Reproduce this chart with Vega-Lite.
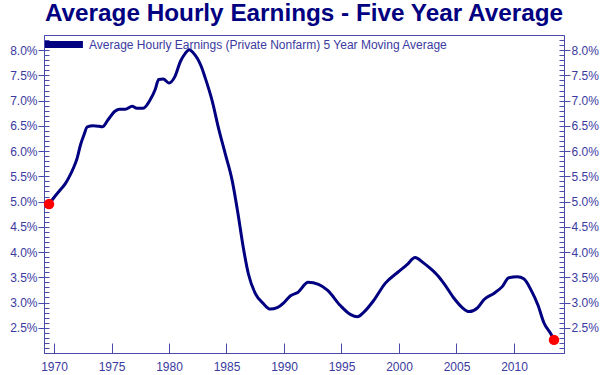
{
  "$schema": "https://vega.github.io/schema/vega-lite/v6.json",
  "width": 520,
  "height": 318,
  "autosize": {"type": "none"},
  "padding": {"left": 44, "top": 35, "right": 36, "bottom": 22},
  "title": {
    "text": "Average Hourly Earnings - Five Year Average",
    "fontSize": 24.3,
    "fontWeight": "bold",
    "color": "#000080",
    "font": "Liberation Sans",
    "anchor": "middle",
    "offset": 9
  },
  "data": {
    "values": [
      {"year": 1969.57, "value": 4.95},
      {"year": 1970.0, "value": 5.08},
      {"year": 1970.5, "value": 5.22},
      {"year": 1971.0, "value": 5.36},
      {"year": 1971.3, "value": 5.48},
      {"year": 1971.7, "value": 5.67},
      {"year": 1972.0, "value": 5.85},
      {"year": 1972.3, "value": 6.12},
      {"year": 1972.6, "value": 6.32},
      {"year": 1972.9, "value": 6.48},
      {"year": 1973.4, "value": 6.5},
      {"year": 1973.9, "value": 6.49},
      {"year": 1974.2, "value": 6.48},
      {"year": 1974.7, "value": 6.62},
      {"year": 1975.3, "value": 6.79},
      {"year": 1975.7, "value": 6.83},
      {"year": 1976.2, "value": 6.83},
      {"year": 1976.8, "value": 6.89},
      {"year": 1977.2, "value": 6.85},
      {"year": 1977.75, "value": 6.85},
      {"year": 1978.4, "value": 7.03},
      {"year": 1978.8, "value": 7.22},
      {"year": 1979.1, "value": 7.42},
      {"year": 1979.5, "value": 7.43},
      {"year": 1980.0, "value": 7.35},
      {"year": 1980.5, "value": 7.47},
      {"year": 1981.0, "value": 7.78},
      {"year": 1981.4, "value": 7.93},
      {"year": 1981.76, "value": 8.01},
      {"year": 1982.1, "value": 7.95},
      {"year": 1982.46, "value": 7.84},
      {"year": 1982.8, "value": 7.68},
      {"year": 1983.15, "value": 7.45},
      {"year": 1983.76, "value": 6.99},
      {"year": 1984.3, "value": 6.46},
      {"year": 1984.9, "value": 5.94},
      {"year": 1985.5, "value": 5.41},
      {"year": 1986.0, "value": 4.76},
      {"year": 1986.46, "value": 4.09},
      {"year": 1986.9, "value": 3.57},
      {"year": 1987.5, "value": 3.18},
      {"year": 1988.2, "value": 2.98},
      {"year": 1988.8, "value": 2.87},
      {"year": 1989.4, "value": 2.9},
      {"year": 1990.0, "value": 3.0},
      {"year": 1990.6, "value": 3.14},
      {"year": 1991.2, "value": 3.2},
      {"year": 1992.1, "value": 3.4},
      {"year": 1993.0, "value": 3.36},
      {"year": 1993.8, "value": 3.24},
      {"year": 1994.9, "value": 2.94},
      {"year": 1995.8, "value": 2.76},
      {"year": 1996.4, "value": 2.72},
      {"year": 1996.9, "value": 2.8},
      {"year": 1997.8, "value": 3.04},
      {"year": 1998.8, "value": 3.38},
      {"year": 1999.9, "value": 3.6},
      {"year": 2000.7, "value": 3.75},
      {"year": 2001.4, "value": 3.89},
      {"year": 2002.1, "value": 3.79},
      {"year": 2002.75, "value": 3.67},
      {"year": 2003.3, "value": 3.55},
      {"year": 2003.9, "value": 3.38},
      {"year": 2004.8, "value": 3.08},
      {"year": 2005.5, "value": 2.9},
      {"year": 2006.1, "value": 2.82},
      {"year": 2006.85, "value": 2.9},
      {"year": 2007.4, "value": 3.06},
      {"year": 2008.25, "value": 3.18},
      {"year": 2009.0, "value": 3.32},
      {"year": 2009.55, "value": 3.49},
      {"year": 2010.3, "value": 3.51},
      {"year": 2010.85, "value": 3.47},
      {"year": 2011.5, "value": 3.24},
      {"year": 2012.1, "value": 2.94},
      {"year": 2012.6, "value": 2.6},
      {"year": 2013.2, "value": 2.38},
      {"year": 2013.48, "value": 2.26}
    ]
  },
  "layer": [
    {
      "mark": {"type": "line", "strokeWidth": 3, "interpolate": "monotone"},
      "encoding": {
        "x": {
          "field": "year", "type": "quantitative",
          "scale": {"domain": [1969.13, 2014.35], "nice": false, "zero": false},
          "axis": {"orient": "bottom", "title": null, "values": [1970, 1975, 1980, 1985, 1990, 1995, 2000, 2005, 2010], "format": "d", "ticks": false, "labelPadding": 8, "grid": false, "domain": true}
        },
        "y": {
          "field": "value", "type": "quantitative",
          "scale": {"domain": [2.0, 8.3], "nice": false, "zero": false},
          "axis": {"orient": "left", "title": null, "values": [2.5, 3.0, 3.5, 4.0, 4.5, 5.0, 5.5, 6.0, 6.5, 7.0, 7.5, 8.0], "labelExpr": "format(datum.value, '.1f') + '%'", "tickSize": 6, "labelPadding": 1, "grid": false}
        },
        "color": {
          "datum": "Average Hourly Earnings (Private Nonfarm) 5 Year Moving Average",
          "scale": {"range": ["#000080"]},
          "legend": {"orient": "top-left", "title": null, "offset": 1, "padding": 0, "symbolType": "M-1.8,0H6.2", "symbolStrokeWidth": 7, "symbolSize": 90, "labelFontSize": 12, "labelColor": "#3a3aa0", "labelFont": "Liberation Sans", "labelOffset": 27, "labelLimit": 500}
        }
      }
    },
    {
      "transform": [{"filter": "datum.year < 1969.6 || datum.year > 2013.4"}],
      "mark": {"type": "point", "filled": true, "color": "#ff0000", "size": 110, "opacity": 1},
      "encoding": {
        "x": {"field": "year", "type": "quantitative", "scale": {"domain": [1969.13, 2014.35], "nice": false, "zero": false}, "axis": null},
        "y": {
          "field": "value", "type": "quantitative",
          "scale": {"domain": [2.0, 8.3], "nice": false, "zero": false},
          "axis": {"orient": "right", "title": null, "values": [2.5, 3.0, 3.5, 4.0, 4.5, 5.0, 5.5, 6.0, 6.5, 7.0, 7.5, 8.0], "labelExpr": "format(datum.value, '.1f') + '%'", "tickSize": 6, "labelPadding": 1, "grid": false}
        }
      }
    },
    {
      "mark": {"type": "line", "opacity": 0},
      "encoding": {
        "x": {
          "field": "year", "type": "quantitative",
          "scale": {"domain": [1969.13, 2014.35], "nice": false, "zero": false},
          "axis": {"orient": "bottom", "title": null, "values": [1970, 1975, 1980, 1985, 1990, 1995, 2000, 2005, 2010], "labels": false, "tickSize": -10, "domain": false, "grid": false}
        },
        "y": {
          "field": "value", "type": "quantitative",
          "scale": {"domain": [2.0, 8.3], "nice": false, "zero": false},
          "axis": {"orient": "left", "title": null, "values": [2.1, 2.2, 2.3, 2.4, 2.5, 2.6, 2.7, 2.8, 2.9, 3.0, 3.1, 3.2, 3.3, 3.4, 3.5, 3.6, 3.7, 3.8, 3.9, 4.0, 4.1, 4.2, 4.3, 4.4, 4.5, 4.6, 4.7, 4.8, 4.9, 5.0, 5.1, 5.2, 5.3, 5.4, 5.5, 5.6, 5.7, 5.8, 5.9, 6.0, 6.1, 6.2, 6.3, 6.4, 6.5, 6.6, 6.7, 6.8, 6.9, 7.0, 7.1, 7.2, 7.3, 7.4, 7.5, 7.6, 7.7, 7.8, 7.9, 8.0, 8.1, 8.2], "labels": false, "tickSize": -5, "domain": false, "grid": false}
        }
      }
    },
    {
      "mark": {"type": "line", "opacity": 0},
      "encoding": {
        "x": {"field": "year", "type": "quantitative", "scale": {"domain": [1969.13, 2014.35], "nice": false, "zero": false}, "axis": null},
        "y": {
          "field": "value", "type": "quantitative",
          "scale": {"domain": [2.0, 8.3], "nice": false, "zero": false},
          "axis": {"orient": "right", "title": null, "values": [2.1, 2.2, 2.3, 2.4, 2.5, 2.6, 2.7, 2.8, 2.9, 3.0, 3.1, 3.2, 3.3, 3.4, 3.5, 3.6, 3.7, 3.8, 3.9, 4.0, 4.1, 4.2, 4.3, 4.4, 4.5, 4.6, 4.7, 4.8, 4.9, 5.0, 5.1, 5.2, 5.3, 5.4, 5.5, 5.6, 5.7, 5.8, 5.9, 6.0, 6.1, 6.2, 6.3, 6.4, 6.5, 6.6, 6.7, 6.8, 6.9, 7.0, 7.1, 7.2, 7.3, 7.4, 7.5, 7.6, 7.7, 7.8, 7.9, 8.0, 8.1, 8.2], "labels": false, "tickSize": -5, "domain": false, "grid": false}
        }
      }
    }
  ],
  "resolve": {
    "scale": {"x": "shared", "y": "shared"},
    "axis": {"x": "independent", "y": "independent"}
  },
  "config": {
    "font": "Liberation Sans",
    "view": {"stroke": "#4b4bab", "strokeWidth": 1},
    "axis": {
      "domainColor": "#4b4bab",
      "tickColor": "#4b4bab",
      "labelColor": "#3a3aa0",
      "labelFont": "Liberation Sans",
      "labelFontSize": 12
    }
  }
}
